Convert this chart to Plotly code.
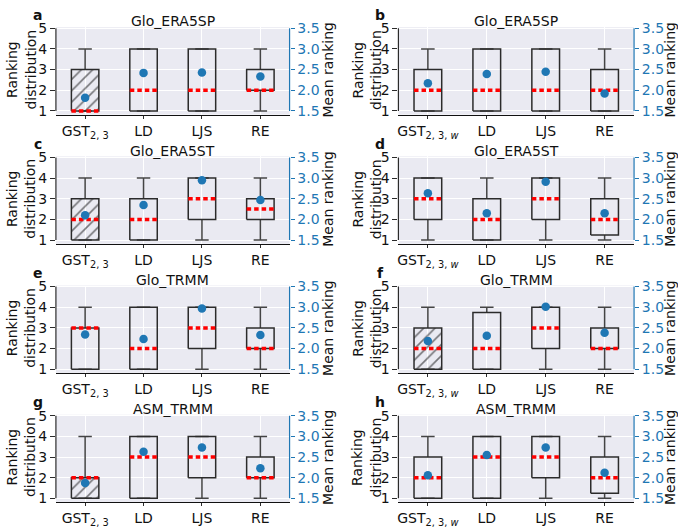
import plotly.graph_objects as go

W, H = 678, 529
FONT = "DejaVu Sans"
BLUE = "#1f77b4"
DARK = "#2b2b2b"

# ---------------- data ----------------
panel_labels = ["a", "b", "c", "d", "e", "f", "g", "h"]
panel_titles = ["Glo_ERA5SP", "Glo_ERA5SP", "Glo_ERA5ST", "Glo_ERA5ST",
                "Glo_TRMM", "Glo_TRMM", "ASM_TRMM", "ASM_TRMM"]
cat_left = ["GST<sub>2, 3</sub>", "LD", "LJS", "RE"]
cat_right = ["GST<sub>2, 3, <i>w</i></sub>", "LD", "LJS", "RE"]

whislo = [
    [1, 1, 1, 1], [1, 1, 1, 1], [1, 1, 1, 1], [1, 1, 1, 1],
    [1, 1, 1, 1], [1, 1, 1, 1], [1, 1, 1, 1], [1, 1, 1, 1],
]
q1 = [
    [1, 1, 1, 2], [1, 1, 1, 1], [1, 1, 2, 2], [2, 1, 2, 1.25],
    [1, 1, 2, 2], [1, 1, 2, 2], [1, 1, 2, 2], [1, 1, 2, 1.25],
]
med = [
    [1, 2, 2, 2], [2, 2, 2, 2], [2, 2, 3, 2.5], [3, 2, 3, 2],
    [3, 2, 3, 2], [2, 2, 3, 2], [2, 3, 3, 2], [2, 3, 3, 2],
]
q3 = [
    [3, 4, 4, 3], [3, 4, 4, 3], [3, 3, 4, 3], [4, 3, 4, 3],
    [3, 4, 4, 3], [3, 3.75, 4, 3], [2, 4, 4, 3], [3, 4, 4, 3],
]
whishi = [
    [4, 4, 4, 4], [4, 4, 4, 4], [4, 4, 4, 4], [4, 4, 4, 4],
    [4, 4, 4, 4], [4, 4, 4, 4], [4, 4, 4, 4], [4, 4, 4, 4],
]
mean_rank = [
    [1.82, 2.42, 2.43, 2.33],
    [2.17, 2.39, 2.45, 1.92],
    [2.10, 2.35, 2.95, 2.47],
    [2.63, 2.15, 2.91, 2.15],
    [2.34, 2.23, 2.97, 2.33],
    [2.18, 2.31, 3.01, 2.38],
    [1.87, 2.63, 2.73, 2.23],
    [2.06, 2.55, 2.73, 2.12],
]
hatched = [
    [1, 0, 0, 0], [0, 0, 0, 0], [1, 0, 0, 0], [0, 0, 0, 0],
    [0, 0, 0, 0], [1, 0, 0, 0], [1, 0, 0, 0], [0, 0, 0, 0],
]

left_ticks = [1, 2, 3, 4, 5]
right_ticks = [1.5, 2.0, 2.5, 3.0, 3.5]
right_ticktext = ["1.5", "2.0", "2.5", "3.0", "3.5"]

# ---------------- layout geometry (pixels) ----------------
col_x0 = [55, 398]
col_x1 = [289, 634]
row_y5 = [21.7, 153.6, 285.5, 417.4]
ppu = 21.1
y_lo, y_hi = 0.82, 5.05
sec_lo, sec_hi = 0.5 * y_lo + 1, 0.5 * y_hi + 1
hw = 0.235   # half box width (x units)
cw = 0.115   # half cap width

fig = go.Figure()
annotations = []
shapes = []
layout_axes = {}

for k in range(8):
    row, col = k // 2, k % 2
    xn = k + 1
    yl = 2 * k + 1
    yr = 2 * k + 2
    xref = "x" if xn == 1 else f"x{xn}"
    ylref = "y" if yl == 1 else f"y{yl}"
    yrref = f"y{yr}"
    cats = cat_left if col == 0 else cat_right
    pos = list(range(len(cats)))

    bx, by = [], []
    wx, wy = [], []
    mx, my = [], []
    for i in pos:
        bx += [i - hw, i + hw, i + hw, i - hw, i - hw, None]
        by += [q1[k][i], q1[k][i], q3[k][i], q3[k][i], q1[k][i], None]
        wx += [i, i, None, i - cw, i + cw, None, i, i, None, i - cw, i + cw, None]
        wy += [q3[k][i], whishi[k][i], None, whishi[k][i], whishi[k][i], None,
               q1[k][i], whislo[k][i], None, whislo[k][i], whislo[k][i], None]
        mx += [i - hw, i + hw, None]
        my += [med[k][i], med[k][i], None]

    hx = [i for i in pos if hatched[k][i]]
    if hx:
        fig.add_trace(go.Bar(
            x=hx, base=[q1[k][i] for i in hx], y=[q3[k][i] - q1[k][i] for i in hx],
            width=2 * hw, xaxis=xref, yaxis=ylref, showlegend=False,
            marker=dict(color="rgba(0,0,0,0)", line=dict(width=0),
                        pattern=dict(shape="/", fgcolor="#000000", bgcolor="rgba(0,0,0,0)",
                                     size=8, solidity=0.2, fillmode="overlay")),
        ))
    fig.add_trace(go.Scatter(x=wx, y=wy, mode="lines", xaxis=xref, yaxis=ylref,
                             line=dict(color="#444444", width=1.5), showlegend=False))
    fig.add_trace(go.Scatter(x=bx, y=by, mode="lines", xaxis=xref, yaxis=ylref,
                             line=dict(color=DARK, width=1.5), showlegend=False))
    fig.add_trace(go.Scatter(x=mx, y=my, mode="lines", xaxis=xref, yaxis=ylref,
                             line=dict(color="#ff0000", width=3.5, dash="4.5px,3px"),
                             showlegend=False))
    fig.add_trace(go.Scatter(x=pos, y=mean_rank[k], mode="markers", xaxis=xref, yaxis=yrref,
                             marker=dict(color=BLUE, size=8.5), showlegend=False))

    x0p, x1p = col_x0[col], col_x1[col]
    top_px = row_y5[row] - (y_hi - 5) * ppu
    bot_px = row_y5[row] + (5 - y_lo) * ppu
    xdom = [x0p / W, x1p / W]
    ydom = [1 - bot_px / H, 1 - top_px / H]

    xkey = "xaxis" if xn == 1 else f"xaxis{xn}"
    ylkey = "yaxis" if yl == 1 else f"yaxis{yl}"
    yrkey = f"yaxis{yr}"
    layout_axes[xkey] = dict(
        domain=xdom, anchor=ylref, range=[-0.5, 3.5], tickvals=pos, ticktext=cats,
        showgrid=True, gridcolor="white", gridwidth=1, zeroline=False,
        showline=True, linecolor="#111111", linewidth=1.3,
        ticks="outside", ticklen=3, tickwidth=1, tickcolor=DARK,
        tickfont=dict(family=FONT, size=14, color="#111111"), fixedrange=True,
    )
    layout_axes[ylkey] = dict(
        domain=ydom, anchor=xref, range=[y_lo, y_hi], tickvals=left_ticks,
        showgrid=True, gridcolor="white", gridwidth=1, zeroline=False, showline=False,
        ticks="outside", ticklen=5, tickwidth=1, tickcolor=DARK,
        tickfont=dict(family=FONT, size=14, color="#111111"), fixedrange=True,
    )
    layout_axes[yrkey] = dict(
        overlaying=ylref, anchor=xref, side="right", range=[sec_lo, sec_hi],
        tickvals=right_ticks, ticktext=right_ticktext, showgrid=False, zeroline=False,
        showline=False, ticks="outside", ticklen=4, tickwidth=1, tickcolor=BLUE,
        tickfont=dict(family=FONT, size=14, color=BLUE), fixedrange=True,
    )

    xdomref = ("x" if xn == 1 else f"x{xn}") + " domain"
    shapes.append(dict(type="line", xref=xdomref, yref=ylref, x0=0, x1=0, y0=1, y1=5,
                       line=dict(color=DARK, width=1.2)))
    shapes.append(dict(type="line", xref=xdomref, yref=yrref, x0=1, x1=1, y0=1.5, y1=3.5,
                       line=dict(color=BLUE, width=1.2)))

    y5 = row_y5[row]
    mid_px = y5 + 2 * ppu
    annotations.append(dict(text=panel_titles[k], x=(x0p + x1p) / 2 / W, y=1 - (y5 - 7) / H,
                            xref="paper", yref="paper", showarrow=False, xanchor="center",
                            yanchor="middle", font=dict(family=FONT, size=14, color="#111111")))
    annotations.append(dict(text=f"<b>{panel_labels[k]}</b>", x=(x0p - 18) / W,
                            y=1 - (y5 - 14) / H, xref="paper", yref="paper", showarrow=False,
                            xanchor="center", yanchor="middle",
                            font=dict(family=FONT, size=14, color="#111111")))
    lt_off = 35 if col == 0 else 32
    annotations.append(dict(text="Ranking<br>distribution", x=(x0p - lt_off) / W,
                            y=1 - mid_px / H, xref="paper", yref="paper", showarrow=False,
                            textangle=-90, xanchor="center", yanchor="middle",
                            font=dict(family=FONT, size=14, color="#111111")))
    rt_off = 38.5 if col == 0 else 36
    annotations.append(dict(text="Mean ranking", x=(x1p + rt_off) / W,
                            y=1 - mid_px / H, xref="paper", yref="paper", showarrow=False,
                            textangle=-90, xanchor="center", yanchor="middle",
                            font=dict(family=FONT, size=14, color="#111111")))

fig.update_layout(
    width=W, height=H, margin=dict(l=0, r=0, t=0, b=0),
    paper_bgcolor="white", plot_bgcolor="#eaeaf2",
    barmode="overlay", showlegend=False,
    font=dict(family=FONT, size=14, color="#111111"),
    annotations=annotations, shapes=shapes,
    **layout_axes,
)

fig.write_html("out.html")
